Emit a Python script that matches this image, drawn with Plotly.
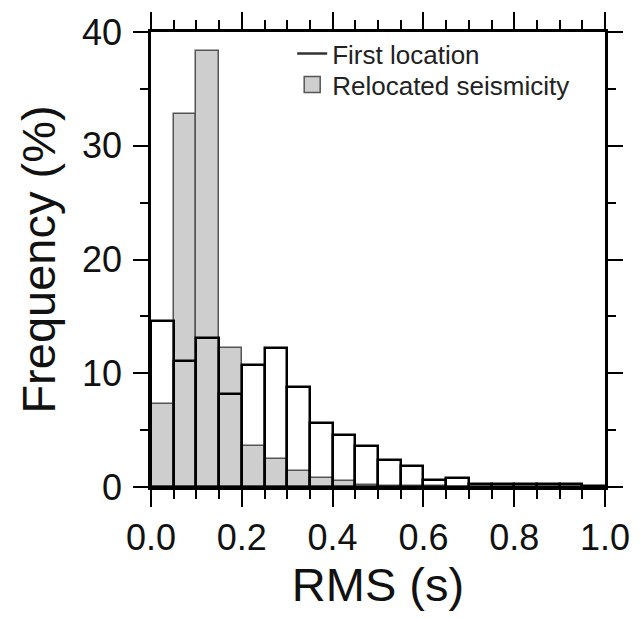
import plotly.graph_objects as go

bin_left = [0.00, 0.05, 0.10, 0.15, 0.20, 0.25, 0.30, 0.35, 0.40, 0.45,
            0.50, 0.55, 0.60, 0.65, 0.70, 0.75, 0.80, 0.85, 0.90, 0.95]
bin_width = 0.05
first_location = [14.6, 11.1, 13.1, 8.2, 10.7, 12.25, 8.8, 5.65, 4.6, 3.6,
                  2.35, 1.85, 0.6, 0.75, 0.3, 0.3, 0.3, 0.3, 0.3, 0.1]
relocated = [7.3, 32.8, 38.3, 12.25, 3.6, 2.5, 1.4, 0.75, 0.5, 0.15,
             0.1, 0.05, 0.05, 0.0, 0.0, 0.0, 0.0, 0.0, 0.0, 0.0]
x_ticks = [0.0, 0.2, 0.4, 0.6, 0.8, 1.0]
x_tick_labels = ["0.0", "0.2", "0.4", "0.6", "0.8", "1.0"]
y_ticks = [0, 10, 20, 30, 40]

centers = [b + bin_width / 2 for b in bin_left]

FONT = "Liberation Sans, Arial, sans-serif"
GRAY = "#cecece"

fig = go.Figure()
fig.add_trace(go.Bar(
    x=centers, y=relocated, width=bin_width,
    marker=dict(color=GRAY, line=dict(color="#555555", width=1.5)),
    showlegend=False,
))
fig.add_trace(go.Bar(
    x=centers, y=first_location, width=bin_width,
    marker=dict(color="rgba(0,0,0,0)", line=dict(color="black", width=2.5)),
    showlegend=False,
))
# legend entries
fig.add_trace(go.Scatter(
    x=[None], y=[None], mode="lines", name="First location",
    line=dict(color="#333333", width=2.5), legend="legend",
))
fig.add_trace(go.Scatter(
    x=[None], y=[None], mode="markers", name="Relocated seismicity",
    marker=dict(symbol="square", size=16, color=GRAY,
                line=dict(color="#555555", width=1.5)),
    legend="legend2",
))

legend_common = dict(
    xanchor="left", yanchor="top",
    bgcolor="rgba(0,0,0,0)", borderwidth=0,
    font=dict(family=FONT, size=26, color="#222222"),
    itemsizing="trace",
)

fig.update_layout(
    width=642, height=619,
    margin=dict(l=151, r=34, t=29, b=132),
    paper_bgcolor="white", plot_bgcolor="white",
    barmode="overlay", bargap=0,
    font=dict(family=FONT, color="black"),
    showlegend=True,
    legend=dict(x=0.311, y=1.004, **legend_common),
    legend2=dict(x=0.311, y=0.936, **legend_common),
)
fig.update_xaxes(
    range=[0, 1], tickvals=x_ticks, ticktext=x_tick_labels,
    showgrid=False, zeroline=False,
    showline=True, linecolor="black", linewidth=2.5, mirror="ticks",
    ticks="outside", ticklen=17, tickwidth=1.5, tickcolor="black",
    minor=dict(dtick=bin_width, ticks="outside", ticklen=9, tickwidth=1.5,
               tickcolor="black", showgrid=False),
    tickfont=dict(size=36, family=FONT, color="#111111"),
    title=dict(text="RMS (s)", font=dict(size=47, family=FONT, color="#111111"),
               standoff=12),
)
fig.update_yaxes(
    range=[0, 40], tickvals=y_ticks,
    showgrid=False, zeroline=False,
    showline=True, linecolor="black", linewidth=2.5, mirror="ticks",
    ticks="outside", ticklen=15, tickwidth=1.5, tickcolor="black",
    minor=dict(dtick=5, ticks="outside", ticklen=8, tickwidth=1.5,
               tickcolor="black", showgrid=False),
    tickfont=dict(size=36, family=FONT, color="#111111"),
    ticklabelstandoff=4,
    title=dict(text="Frequency (%)", font=dict(size=47, family=FONT, color="#111111"),
               standoff=12),
)

fig.write_html("out.html")
